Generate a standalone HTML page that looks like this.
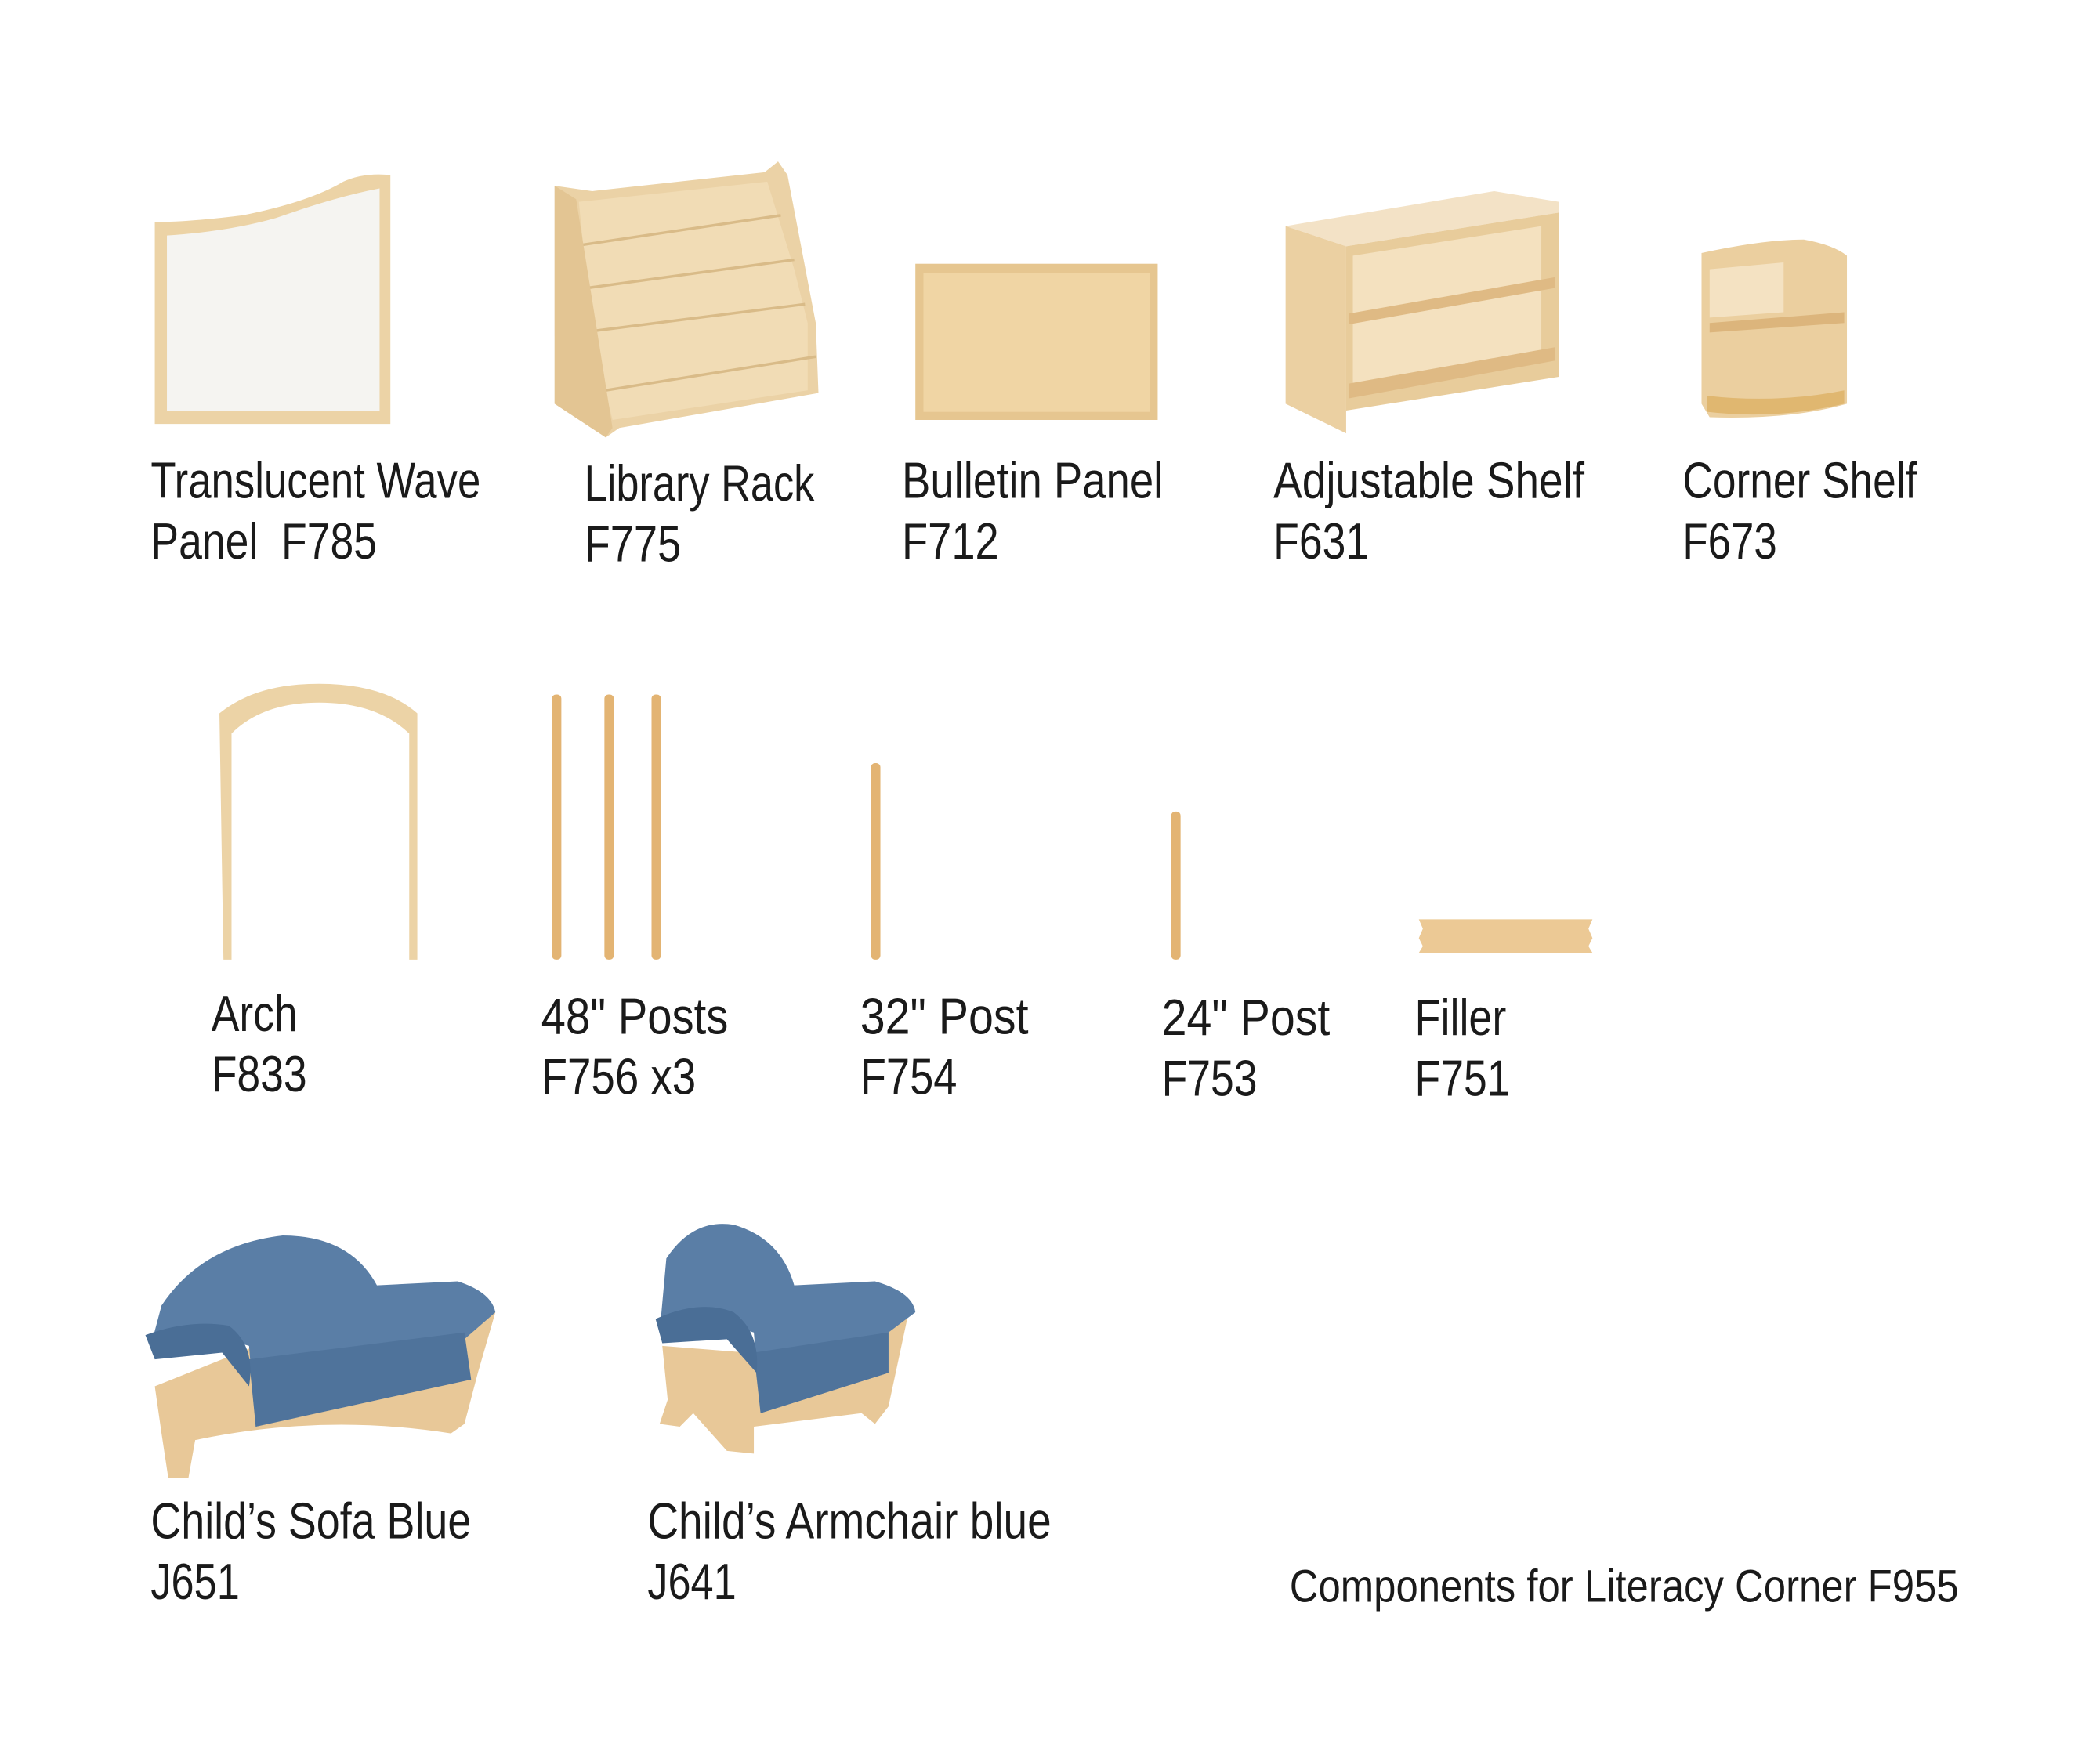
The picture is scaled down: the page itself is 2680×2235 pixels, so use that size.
<!DOCTYPE html>
<html><head><meta charset="utf-8"><style>
html,body{margin:0;padding:0;background:#fff;}
svg{display:block;}
text{font-family:"Liberation Sans Narrow","Liberation Sans",sans-serif;fill:#1a1a1a;font-size:38px;}
</style></head><body>
<svg width="2680" height="2235" viewBox="0 0 1560 1301" preserveAspectRatio="none" xmlns="http://www.w3.org/2000/svg">
<rect width="1560" height="1301" fill="#fff"/>
<!-- Wave panel -->
<path d="M115,165 Q140,165 180,160 Q230,150 255,135 Q270,128 290,130 L290,315 L115,315 Z" fill="#ecd3a6"/>
<path d="M124,175 Q170,172 205,162 Q250,146 282,140 L282,305 L124,305 Z" fill="#f5f4f1"/>
<!-- Library rack -->
<path d="M412,138 L440,142 L568,128 L578,120 L585,130 L606,240 L608,292 L460,318 L450,325 L412,300 Z" fill="#ebd2a6"/>
<path d="M430,150 L570,135 L590,200 L600,240 L600,290 L455,312 L440,250 Z" fill="#f1dcb5"/>
<path d="M432,182 L580,160 M436,214 L590,193 M440,246 L598,226 M450,290 L606,265" stroke="#d9bb88" stroke-width="2" fill="none"/>
<path d="M412,138 L428,148 L455,318 L450,325 L412,300 Z" fill="#e3c593"/>
<!-- Bulletin -->
<rect x="680" y="196" width="180" height="116" fill="#e6c690"/>
<rect x="686" y="203" width="168" height="103" fill="#f0d5a4"/>
<!-- Adjustable shelf -->
<path d="M955,168 L1000,183 L1158,158 L1158,150 L1110,142 Z" fill="#f3e2c6"/>
<path d="M955,168 L1000,183 L1000,322 L955,300 Z" fill="#ebd0a2"/>
<path d="M1000,183 L1158,158 L1158,280 L1000,305 Z" fill="#e8cc9b"/>
<path d="M1005,190 L1145,168 L1145,268 L1005,292 Z" fill="#f4e1bf"/>
<path d="M1002,233 L1155,206 L1155,214 L1002,241 Z M1002,285 L1155,258 L1155,268 L1002,296 Z" fill="#dfba84"/>
<!-- Corner shelf -->
<path d="M1264,188 Q1310,178 1340,178 Q1362,182 1372,190 L1372,300 Q1330,312 1270,310 L1264,300 Z" fill="#ebcf9f"/>
<path d="M1270,200 L1325,195 L1325,232 L1270,236 Z" fill="#f4e2c2"/>
<path d="M1270,240 L1370,232 L1370,240 L1270,247 Z" fill="#dcb57c"/>
<path d="M1268,294 Q1320,300 1370,290 L1370,300 Q1320,312 1268,306 Z" fill="#e0b770"/>
<!-- Arch -->
<path d="M163,530 Q190,508 237,508 Q285,508 310,530 L310,713 L304,713 L304,545 Q280,522 237,522 Q195,522 172,545 L172,713 L166,713 Z" fill="#ecd3a6"/>
<!-- Posts -->
<g fill="#e3b473">
<rect x="410" y="516" width="7" height="197" rx="3"/>
<rect x="449" y="516" width="7" height="197" rx="3"/>
<rect x="484" y="516" width="7" height="197" rx="3"/>
<rect x="647" y="567" width="7" height="146" rx="3"/>
<rect x="870" y="603" width="7" height="110" rx="3"/>
</g>
<!-- Filler -->
<path d="M1054,683 L1183,683 L1180,690 L1183,697 L1180,703 L1183,708 L1054,708 L1057,703 L1054,697 L1057,690 Z" fill="#ecc995"/>
<!-- Sofa -->
<path d="M115,1030 L120,1065 L125,1098 L140,1098 L145,1070 Q240,1050 335,1065 L345,1058 L355,1020 L368,975 L190,1000 Z" fill="#e8c898"/>
<path d="M120,970 Q150,925 210,918 Q260,918 280,955 L340,952 Q365,960 368,975 L345,995 L345,1020 L190,1060 L185,1000 L150,990 L112,1000 Z" fill="#5a7ea6"/>
<path d="M185,1010 L345,990 L350,1025 L190,1060 Z" fill="#4f739b"/>
<path d="M108,992 Q140,980 170,985 Q190,1000 185,1030 L165,1005 L115,1010 Z" fill="#4a6e96"/>
<!-- Armchair -->
<path d="M492,1000 L496,1040 L490,1058 L505,1060 L515,1050 L540,1078 L560,1080 L560,1060 L640,1050 L650,1058 L660,1045 L675,975 L555,1005 Z" fill="#e8c898"/>
<path d="M495,935 Q515,905 545,910 Q580,920 590,955 L650,952 Q678,960 680,975 L660,990 L660,1020 L565,1050 L560,990 L520,978 L490,990 Z" fill="#5a7ea6"/>
<path d="M560,1005 L660,990 L660,1020 L565,1050 Z" fill="#4f739b"/>
<path d="M487,980 Q520,965 545,975 Q565,990 562,1020 L540,995 L492,998 Z" fill="#4a6e96"/>
<!-- Labels -->
<text x="112" y="370" textLength="245" lengthAdjust="spacingAndGlyphs">Translucent Wave</text>
<text x="112" y="415" textLength="168" lengthAdjust="spacingAndGlyphs" xml:space="preserve">Panel  F785</text>
<text x="434" y="372" textLength="171" lengthAdjust="spacingAndGlyphs">Library Rack</text>
<text x="434" y="417" textLength="72" lengthAdjust="spacingAndGlyphs">F775</text>
<text x="670" y="370" textLength="194" lengthAdjust="spacingAndGlyphs">Bulletin Panel</text>
<text x="670" y="415" textLength="72" lengthAdjust="spacingAndGlyphs">F712</text>
<text x="946" y="370" textLength="231" lengthAdjust="spacingAndGlyphs">Adjustable Shelf</text>
<text x="946" y="415" textLength="71" lengthAdjust="spacingAndGlyphs">F631</text>
<text x="1250" y="370" textLength="174" lengthAdjust="spacingAndGlyphs">Corner Shelf</text>
<text x="1250" y="415" textLength="70" lengthAdjust="spacingAndGlyphs">F673</text>
<text x="157" y="766" textLength="64" lengthAdjust="spacingAndGlyphs">Arch</text>
<text x="157" y="811" textLength="71" lengthAdjust="spacingAndGlyphs">F833</text>
<text x="402" y="768" textLength="139" lengthAdjust="spacingAndGlyphs">48" Posts</text>
<text x="402" y="813" textLength="115" lengthAdjust="spacingAndGlyphs">F756 x3</text>
<text x="639" y="768" textLength="125" lengthAdjust="spacingAndGlyphs">32" Post</text>
<text x="639" y="813" textLength="72" lengthAdjust="spacingAndGlyphs">F754</text>
<text x="863" y="769" textLength="125" lengthAdjust="spacingAndGlyphs">24" Post</text>
<text x="863" y="814" textLength="71" lengthAdjust="spacingAndGlyphs">F753</text>
<text x="1051" y="769" textLength="68" lengthAdjust="spacingAndGlyphs">Filler</text>
<text x="1051" y="814" textLength="71" lengthAdjust="spacingAndGlyphs">F751</text>
<text x="112" y="1143" textLength="238" lengthAdjust="spacingAndGlyphs">Child’s Sofa Blue</text>
<text x="112" y="1188" textLength="66" lengthAdjust="spacingAndGlyphs">J651</text>
<text x="481" y="1143" textLength="300" lengthAdjust="spacingAndGlyphs">Child’s Armchair blue</text>
<text x="481" y="1188" textLength="66" lengthAdjust="spacingAndGlyphs">J641</text>
<text x="958" y="1190" style="font-size:34px" textLength="497" lengthAdjust="spacingAndGlyphs">Components for Literacy Corner F955</text>
</svg>
</body></html>
